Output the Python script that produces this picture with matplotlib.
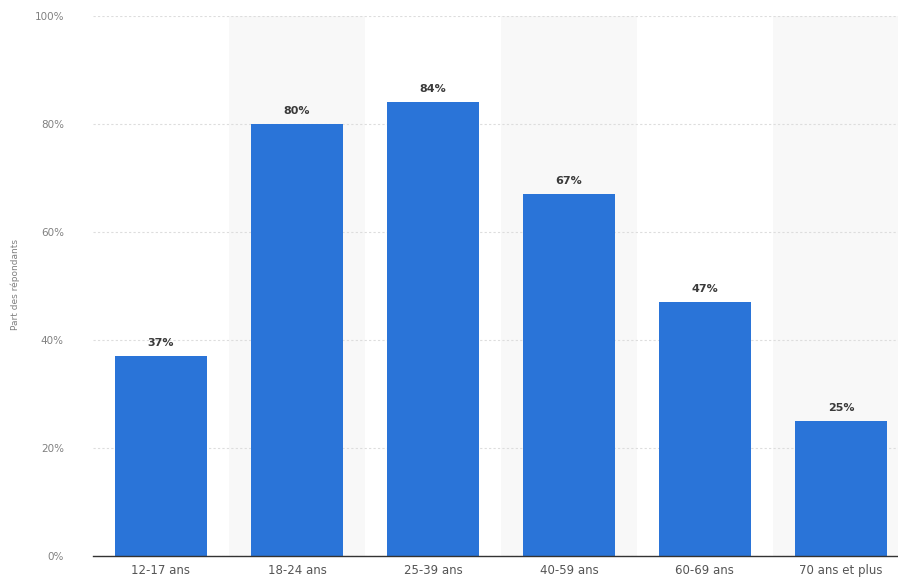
import matplotlib
matplotlib.use("Agg")
import matplotlib.pyplot as plt

# data
categories = ["12-17 ans", "18-24 ans", "25-39 ans", "40-59 ans", "60-69 ans", "70 ans et plus"]
values = [37, 80, 84, 67, 47, 25]
yticks = [0, 20, 40, 60, 80, 100]
ytick_labels = ["0%", "20%", "40%", "60%", "80%", "100%"]

plt.rcParams['font.family'] = ['DejaVu Sans']

fig = plt.figure(figsize=(8.98, 5.84), dpi=100)
ax = fig.add_axes([93 / 898, 28 / 584, 805 / 898, 540 / 584])

x = list(range(len(categories)))

# alternating background bands
for i in x:
    if i % 2 == 1:
        ax.axvspan(i - 0.5, i + 0.5, color="#f8f8f8", zorder=0, lw=0)

ax.bar(x, values, width=0.68, color="#2a74d8", zorder=3)

for xi, v in zip(x, values):
    ax.text(xi, v + 1.5, f"{v}%", ha="center", va="bottom",
            fontsize=8, fontweight="bold", color="#3a3a3a", zorder=4)

ax.set_xlim(-0.5, 5.42)
ax.set_ylim(0, 100)
ax.set_yticks(yticks)
ax.set_yticklabels(ytick_labels)
ax.set_xticks(x)
ax.set_xticklabels(categories)
ax.tick_params(axis="y", length=0, pad=21, labelsize=7.5, labelcolor="#808080")
ax.tick_params(axis="x", length=0, pad=6, labelsize=8.5, labelcolor="#555555")

ax.grid(axis="y", linestyle=(0, (2, 2)), color="#dddddd", linewidth=0.8, zorder=1)
for s in ["top", "right", "left"]:
    ax.spines[s].set_visible(False)
ax.spines["bottom"].set_color("#333333")
ax.spines["bottom"].set_linewidth(1.0)
ax.spines["bottom"].set_zorder(5)

fig.text(15 / 898, 1 - 285 / 584, "Part des répondants", rotation=90,
         ha="center", va="center", fontsize=6.5, color="#808080")

fig.savefig("out.png", dpi=100)
